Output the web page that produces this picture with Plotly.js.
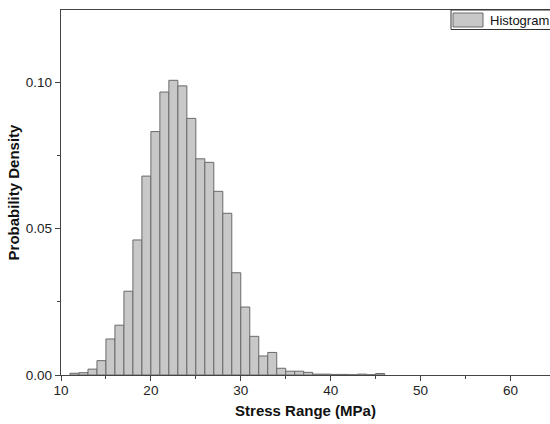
<!DOCTYPE html>
<html>
<head>
<meta charset="utf-8">
<script src="https://cdn.plot.ly/plotly-3.0.1.min.js"></script>
<style>html,body{margin:0;padding:0;background:#fff;}#chart{width:550px;height:424px;}</style>
</head>
<body>
<div id="chart"></div>
<script>
// Bin left edges (MPa), bin width 1 MPa
var binLeft = [11,12,13,14,15,16,17,18,19,20,21,22,23,24,25,26,27,28,29,30,31,32,33,34,35,36,37,38,39,40,41,42,43,44,45];
// Probability density per bin
var density = [0.0006,0.0008,0.0020,0.0049,0.0123,0.0170,0.0286,0.0461,0.0679,0.0831,0.0966,0.1006,0.0987,0.0876,0.0738,0.0726,0.0627,0.0552,0.0349,0.0232,0.0132,0.0065,0.0077,0.0023,0.0013,0.0013,0.0009,0.0003,0.0003,0.0002,0.0002,0.0001,0.0003,0.0001,0.0005];
var binWidth = 1;
var xTicks = [10,20,30,40,50,60];
var yTicks = [0.00,0.05,0.10];
var yTickText = ['0.00','0.05','0.10'];
var seriesName = 'Histogram';

var barFill = '#c8c8c8', barLine = '#6a6a6a';

var trace = {
  type: 'bar',
  name: seriesName,
  x: binLeft,
  y: density,
  offset: 0,
  width: binLeft.map(function(){return binWidth;}),
  marker: {color: barFill, line: {color: barLine, width: 1}},
  showlegend: false
};

// legend drawn as box + swatch + label in paper coordinates
var L = 61, R = 550, T = 10, B = 375;
function px(x){ return (x - L) / (R - L); }
function py(y){ return (B - y) / (B - T); }

var layout = {
  width: 550, height: 424,
  margin: {l: L, r: 550 - R, t: T, b: 424 - B},
  paper_bgcolor: '#fff', plot_bgcolor: '#fff',
  font: {family: 'Liberation Sans, Arial, sans-serif', size: 13.5, color: '#222'},
  bargap: 0,
  xaxis: {
    range: [10, 64.4], tickvals: xTicks, ticks: 'outside', ticklen: 5, tickwidth: 1, tickcolor: '#444',
    ticklabelstandoff: -3,
    minor: {dtick: 5, tick0: 0, ticks: 'outside', ticklen: 3, tickcolor: '#444', showgrid: false},
    showline: true, linecolor: '#444', linewidth: 1.3, mirror: true,
    showgrid: false, zeroline: false,
    title: {text: '<b>Stress Range (MPa)</b>', font: {size: 15, color: '#111'}, standoff: 9}
  },
  yaxis: {
    range: [0, 0.1246], tickvals: yTicks, ticktext: yTickText, ticks: 'outside', ticklen: 5, tickwidth: 1, tickcolor: '#444',
    minor: {dtick: 0.025, tick0: 0, ticks: 'outside', ticklen: 3, tickcolor: '#444', showgrid: false},
    showline: true, linecolor: '#444', linewidth: 1.3,
    showgrid: false, zeroline: false,
    title: {text: '<b>Probability Density</b>', font: {size: 15, color: '#111'}, standoff: 2}
  },
  showlegend: false,
  shapes: [
    {type: 'rect', xref: 'paper', yref: 'paper', x0: px(451), x1: px(553), y0: py(29.5), y1: py(10),
     fillcolor: '#fff', line: {color: '#333', width: 1}},
    {type: 'rect', xref: 'paper', yref: 'paper', x0: px(453), x1: px(483), y0: py(27), y1: py(13),
     fillcolor: barFill, line: {color: barLine, width: 1}}
  ],
  annotations: [
    {xref: 'paper', yref: 'paper', x: px(488), y: py(20), xanchor: 'left', yanchor: 'middle',
     text: seriesName, showarrow: false, font: {size: 13, color: '#111'}}
  ]
};

Plotly.newPlot('chart', [trace], layout, {displayModeBar: false, staticPlot: true});
</script>
</body>
</html>
